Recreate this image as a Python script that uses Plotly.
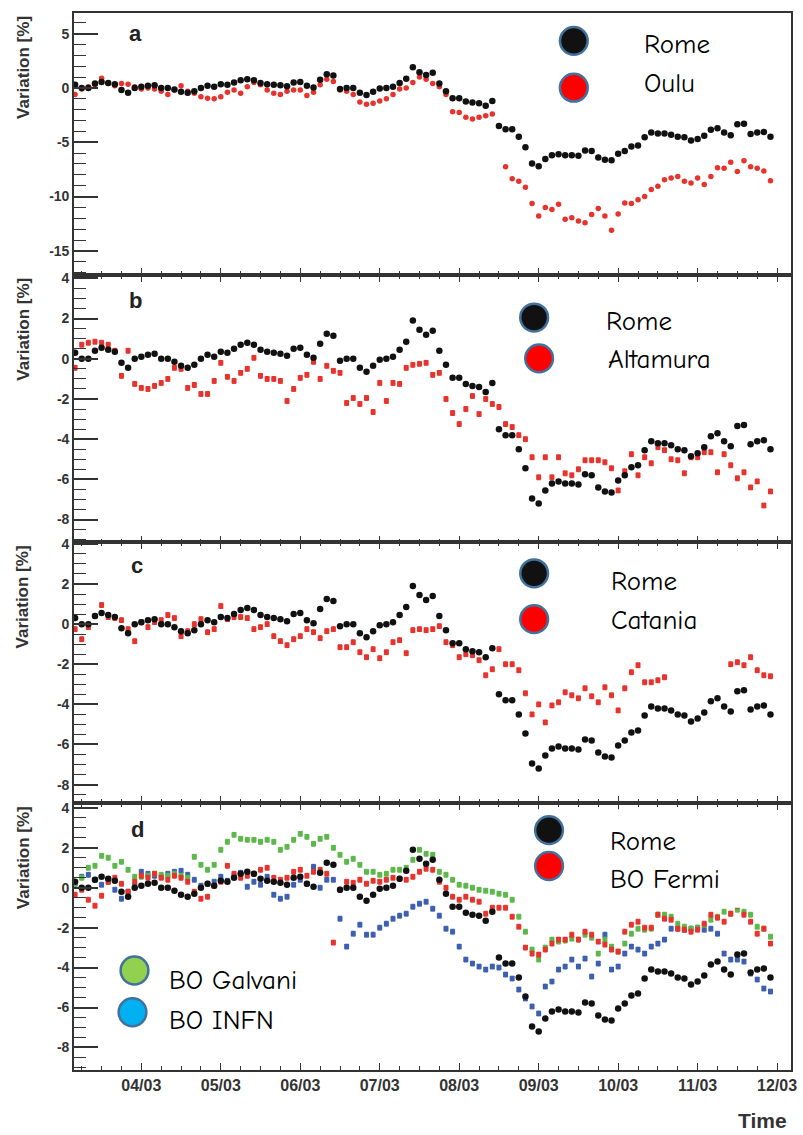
import pandas as pd
import plotly.graph_objects as go

# ---------------- data (variation in %, 2-hour bins) ----------------
N_POINTS = 106
START = "2012-03-03 04:00"

rome = [
    0.3, 0.0, 0.0, 0.4, 0.55, 0.45, 0.35, -0.2, -0.45, 0.0,
    0.1, 0.2, 0.25, 0.0, 0.0, -0.15, -0.35, -0.45, -0.3, 0.0,
    0.2, 0.1, 0.35, 0.3, 0.5, 0.7, 0.8, 0.7, 0.45, 0.35,
    0.3, 0.25, 0.15, 0.5, 0.55, 0.2, 0.05, 0.75, 1.25, 1.15,
    -0.1, 0.0, 0.0, -0.45, -0.65, -0.35, -0.05, 0.0, 0.1, 0.45,
    0.85, 1.9, 1.45, 1.2, 1.4, 0.4, -0.3, -0.95, -0.95, -1.25,
    -1.35, -1.4, -1.65, -1.2, -3.5, -3.8, -3.8, -4.5, -5.45, -6.95,
    -7.2, -6.55, -6.2, -6.1, -6.2, -6.2, -6.25, -5.75, -5.8, -6.4,
    -6.6, -6.65, -6.05, -5.8, -5.4, -5.3, -4.55, -4.1, -4.2, -4.2,
    -4.3, -4.5, -4.55, -4.85, -4.7, -4.4, -3.85, -3.7, -4.1, -4.35,
    -3.35, -3.3, -4.25, -4.1, -4.05, -4.5,
]

oulu = [
    -0.6, -0.1, 0.1, 0.3, 0.9, 0.4, 0.2, 0.4, 0.35, 0.1,
    -0.1, 0.0, -0.1, -0.3, -0.6, -0.2, 0.2, -0.3, -0.5, -0.8,
    -0.95, -1.0, -0.8, -0.4, -0.2, -0.5, 0.1, 0.5, 0.3, -0.2,
    -0.5, -0.6, -0.3, -0.2, -0.2, -0.7, -0.4, 0.3, 0.8, 0.6,
    -0.2, -0.3, -0.6, -1.3, -1.5, -1.4, -1.2, -1.0, -0.6, -0.1,
    0.0, 0.5, 1.0, 0.8, 0.4, 0.1, -0.6, -2.2, -2.25, -2.7,
    -2.85, -2.7, -2.55, -2.4, None, -7.25, -8.35, -8.6, -9.15, -10.65,
    -11.8, -11.0, -11.2, -10.7, -12.1, -11.95, -12.25, -12.4, -11.65, -11.1,
    -11.8, -13.1, -11.6, -10.6, -10.65, -10.3, -10.0, -9.35, -9.05, -8.45,
    -8.3, -8.15, -8.6, -8.75, -8.3, -8.9, -8.15, -7.35, -7.4, -6.85,
    -7.7, -6.7, -7.25, -7.4, -7.65, -8.55,
]

altamura = [
    -0.45, 0.7, 0.8, 0.85, 0.8, 0.7, 0.4, -0.85, 0.4, -1.25,
    -1.45, -1.5, -1.35, -1.2, -1.0, -0.45, -0.5, -1.45, -1.3, -1.75,
    -1.75, -1.1, -0.2, -0.9, -1.1, -0.7, -0.5, 0.05, -0.85, -1.0,
    -1.0, -1.1, -2.1, -1.5, -0.95, -0.8, -0.15, -1.0, -0.35, -0.6,
    -0.7, -2.2, -1.95, -2.25, -1.95, -2.65, -1.2, -2.1, -1.2, -1.25,
    -0.45, -0.3, -0.25, -0.2, -0.8, -0.7, -2.0, -2.7, -3.25, -2.5,
    -1.85, -2.75, -2.0, -2.25, -2.4, -3.25, -3.4, -3.8, -4.0, -4.9,
    -5.9, -4.9, -5.9, -4.9, -5.7, -5.8, -5.5, -5.05, -5.05, -5.05,
    -5.15, -5.45, -6.55, -5.6, -4.75, -5.8, -4.9, -5.2, -4.4, -4.55,
    -5.0, -5.05, -5.7, -4.9, -4.9, -4.65, -4.65, -5.65, -4.75, -5.3,
    -5.95, -5.65, -6.4, -6.1, -7.3, -6.6,
]

catania = [
    -0.25, -0.75, -0.15, 0.4, 0.95, 0.35, 0.3, 0.2, -0.25, -0.85,
    0.1, -0.15, 0.1, 0.2, 0.45, 0.3, -0.6, -0.35, 0.0, 0.25,
    -0.4, -0.25, 0.9, 0.25, 0.35, 0.35, 0.3, -0.25, -0.15, 0.0,
    -0.6, -0.85, -1.05, -0.75, -0.6, -0.25, -0.4, -0.7, -0.35, -0.25,
    -1.15, -1.15, -0.9, -1.4, -1.65, -1.25, -1.7, -1.4, -0.9, -0.8,
    -1.45, -0.3, -0.25, -0.3, -0.25, -0.1, -0.9, -1.05, -1.65, -1.5,
    -1.55, -1.8, -2.55, -2.25, -1.25, -2.0, -2.0, -2.3, -3.45, -4.5,
    -4.0, -4.9, -4.05, -3.9, -3.4, -3.55, -3.7, -3.2, -3.6, -3.9,
    -3.15, -3.55, -4.3, -3.2, -2.4, -2.05, -2.9, -2.9, -2.8, -2.65,
    None, None, None, None, None, None, None, None, None, -2.0,
    -1.9, -2.05, -1.65, -2.3, -2.55, -2.6,
]

bo_fermi = [
    -0.35, -0.1, -0.6, -0.9, -0.4, 0.3, 0.5, 0.2, -0.2, 0.3,
    0.6, 0.5, 0.7, 0.5, 0.4, 0.6, 0.5, 0.3, -0.2, -0.55,
    -0.45, 0.1, 0.3, 1.1, 0.7, 0.5, 0.6, 0.7, 0.9, 1.0,
    0.5, 0.4, 0.5, 0.8, 0.9, 0.6, 0.8, 0.9, 0.7, -2.75,
    -0.1, 0.3, 0.25, 0.4, 0.2, 0.35, 0.3, 0.4, 0.5, 0.45,
    0.4, 0.55, 0.8, 0.95, 0.9, 0.3, 0.0, -0.45, -0.6, -0.45,
    -0.6, -0.7, -1.3, -1.0, -1.0, -1.0, -1.45, -1.95, -3.0, -3.3,
    -3.35, -3.1, -2.8, -2.6, -2.6, -2.35, -2.6, -2.2, -2.35, -2.7,
    -2.85, -3.1, -3.2, -2.2, -1.85, -1.7, -2.0, -2.0, -1.35, -1.55,
    -1.6, -2.05, -2.1, -2.2, -2.1, -1.8, -1.35, -1.5, -1.7, -1.3,
    -0.9, -1.35, -1.7, -2.3, -2.05, -2.8,
]

bo_galvani = [
    0.2, 0.5, 1.0, 1.1, 1.6, 1.5, 1.1, 1.3, 0.9, 0.55,
    0.55, 0.6, 0.7, 0.65, 0.6, 0.7, 0.6, 0.5, 1.55, 1.15,
    0.9, 1.15, 1.9, 2.3, 2.65, 2.45, 2.4, 2.4, 2.3, 2.4,
    2.3, 1.9, 2.05, 2.4, 2.7, 2.55, 2.2, 2.45, 2.55, 2.0,
    1.65, 1.3, 1.45, 1.15, 0.8, 0.8, 0.65, 0.7, 0.9, 0.9,
    1.0, 1.4, 1.9, 1.7, 1.65, 0.8, 0.65, 0.4, 0.15, 0.1,
    0.0, -0.1, -0.15, -0.2, -0.3, -0.35, -0.6, -1.45, -2.2, -3.1,
    -3.6, -3.0, -2.6, -2.7, -2.65, -2.55, -2.6, -2.35, -2.5, -3.3,
    -2.6, -2.95, -3.2, -2.8, -2.3, -2.05, -2.1, -2.05, -1.35, -1.35,
    -1.45, -1.8, -1.95, -2.05, -2.0, -1.85, -1.6, -1.45, -1.2, -1.3,
    -1.1, -1.2, -1.35, -1.95, -2.05, -2.45,
]

bo_infn = [
    0.2, 0.55, 0.65, 0.4, 0.15, 0.3, -0.1, -0.55, -0.2, 0.1,
    0.8, 0.7, 0.6, 0.55, 0.7, 0.8, 0.85, 0.65, 0.4, 0.1,
    0.2, 0.3, 0.55, 0.35, 0.6, 0.75, 0.05, 0.3, 0.15, 0.55,
    -0.35, -0.55, -0.45, 0.15, 0.4, 0.2, 1.05, 0.0, 0.4, 0.4,
    -1.55, -2.95, -2.3, -1.85, -2.35, -2.35, -2.0, -1.8, -1.55, -1.4,
    -1.3, -0.95, -0.8, -0.7, -1.05, -1.4, -2.05, -2.2, -2.95, -3.6,
    -3.8, -3.95, -4.1, -3.95, -4.0, -4.35, -4.55, -5.1, -5.55, -5.95,
    -6.3, -4.95, -4.7, -4.1, -3.95, -3.6, -3.95, -3.55, -4.45, -3.8,
    -2.35, -4.1, -3.95, -3.3, -2.95, -3.1, -3.3, -2.95, -2.8, -2.6,
    -2.05, -2.05, -2.1, -2.05, -2.0, -2.1, -2.05, -2.3, -3.3, -3.6,
    -3.6, -3.7, -4.3, -4.6, -5.05, -5.2,
]

ERR = 0.12  # statistical error bar (%)

x_tick_vals = ["2012-03-04", "2012-03-05", "2012-03-06", "2012-03-07", "2012-03-08",
               "2012-03-09", "2012-03-10", "2012-03-11", "2012-03-12"]
x_tick_labels = ["04/03", "05/03", "06/03", "07/03", "08/03", "09/03", "10/03", "11/03", "12/03"]
ya_tick_vals = [5, 0, -5, -10, -15]
ya_tick_labels = ["5", "0", "-5", "-10", "-15"]
yb_tick_vals = [4, 2, 0, -2, -4, -6, -8]
yb_tick_labels = ["4", "2", "0", "-2", "-4", "-6", "-8"]

panel_letters = ["a", "b", "c", "d"]

time = pd.date_range(START, periods=N_POINTS, freq="2h")

# ---------------- geometry ----------------
W, H = 803, 1135
ML, MR, MT, MB = 74, 6, 8, 65
PW, PH = W - ML - MR, H - MT - MB


def px(x):
    return (x - ML) / PW


def py(y):
    return (H - MB - y) / PH


panel_px = [(8, 271), (271, 540), (540, 802), (802, 1070)]
domains = [[py(b), py(t)] for (t, b) in panel_px]
domains[3][0] = 0.0
domains[0][1] = 1.0
y_ranges = [[-17.2, 6.9], [-9.14, 4.18], [-8.93, 4.07], [-9.13, 4.23]]

BLACK = "#111111"
RED = "#e8322c"
GREEN = "#5cb84a"
BLUE = "#3d5fb0"

fig = go.Figure()


def add_pts(y, row, color, symbol="circle", size=5.5, err=False):
    kw = {}
    if err:
        kw["error_y"] = dict(type="constant", value=ERR, color=color, thickness=1, width=2)
    fig.add_trace(go.Scatter(
        x=time, y=y, mode="markers",
        marker=dict(color=color, size=size, symbol=symbol, line=dict(width=0)),
        xaxis="x" if row == 1 else f"x{row}",
        yaxis="y" if row == 1 else f"y{row}",
        showlegend=False, **kw))


# panel a
add_pts(oulu, 1, RED, size=5.5)
add_pts(rome, 1, BLACK, size=6.5)
# panel b
add_pts(altamura, 2, RED, symbol="square", size=5, err=True)
add_pts(rome, 2, BLACK, size=6.5)
# panel c
add_pts(catania, 3, RED, symbol="square", size=5, err=True)
add_pts(rome, 3, BLACK, size=6.5)
# panel d
add_pts(bo_infn, 4, BLUE, symbol="square", size=5, err=True)
add_pts(bo_galvani, 4, GREEN, symbol="square", size=5, err=True)
add_pts(bo_fermi, 4, RED, symbol="square", size=5, err=True)
add_pts(rome, 4, BLACK, size=6.5)

YTICKFONT = dict(family="Liberation Sans, Arial", size=14, color="#333333", weight="bold")
XTICKFONT = dict(family="Liberation Sans, Arial", size=16, color="#333333", weight="bold")
AX_LINE = "#333333"
x_range = ["2012-03-03 03:40", "2012-03-12 04:12"]

layout = dict(
    width=W, height=H,
    margin=dict(l=ML, r=MR, t=MT, b=MB),
    paper_bgcolor="white", plot_bgcolor="white",
    showlegend=False,
)

for k in range(4):
    sx = "" if k == 0 else str(k + 1)
    last = (k == 3)
    layout[f"xaxis{sx}"] = dict(
        range=x_range, type="date", anchor=f"y{sx}",
        domain=[0, 1],
        tickvals=x_tick_vals, ticktext=x_tick_labels,
        showticklabels=last, tickfont=XTICKFONT,
        ticks="inside", ticklen=7, tickwidth=1.2, tickcolor=AX_LINE,
        minor=dict(dtick=6 * 3600 * 1000, tick0="2012-03-04", ticks="inside",
                   ticklen=4, tickcolor=AX_LINE, tickwidth=1),
        showline=True, linecolor=AX_LINE, linewidth=1.6,
        mirror=True if k == 0 else "ticks",
        showgrid=False, zeroline=False,
        matches=None if k == 0 else "x",
    )
    tv, tt = (ya_tick_vals, ya_tick_labels) if k == 0 else (yb_tick_vals, yb_tick_labels)
    layout[f"yaxis{sx}"] = dict(
        range=y_ranges[k], domain=domains[k], anchor=f"x{sx}",
        tickvals=tv, ticktext=tt, tickfont=YTICKFONT,
        ticks="inside", ticklen=24, tickwidth=1.6, tickcolor=AX_LINE,
        minor=dict(dtick=1 if k == 0 else 0.5, ticks="inside", ticklen=12,
                   tickcolor=AX_LINE, tickwidth=1.2),
        showline=True, linecolor=AX_LINE, linewidth=1.6, mirror=True,
        showgrid=False, zeroline=False,
    )

fig.update_layout(**layout)

# ---------------- annotations ----------------
annotations = []
letter_pos = [(136, 29), (136, 297), (138, 563), (138, 828)]
for (lx, ly), L in zip(letter_pos, panel_letters):
    annotations.append(dict(x=px(lx), y=py(ly), xref="paper", yref="paper", text=L,
                            showarrow=False, xanchor="center", yanchor="middle",
                            font=dict(family="Liberation Sans, Arial", size=22,
                                      color="#222222", weight="bold")))
for (t, b) in panel_px:
    annotations.append(dict(x=px(23), y=py(t + 1), xref="paper", yref="paper",
                            text="Variation [%]", textangle=-90, showarrow=False,
                            xanchor="center", yanchor="top",
                            font=dict(family="Liberation Sans, Arial", size=17,
                                      color="#333333", weight="bold")))
annotations.append(dict(x=px(795), y=py(1121), xref="paper", yref="paper", text="Time",
                        showarrow=False, xanchor="right", yanchor="middle",
                        font=dict(family="Liberation Sans, Arial", size=21,
                                  color="#333333", weight="bold")))

LEG_FONT = dict(family="Comic Sans MS, Comic Neue, Noto Sans", size=27, color="black")
legend_items = [
    # (circle x, circle y, fill, text x, text y, text)
    (578, 36, BLACK, 647, 40, "Rome"),
    (578, 83, "#ff0000", 647, 79, "Oulu"),
    (538, 314, BLACK, 608, 318, "Rome"),
    (543, 355, "#ff0000", 610, 356, "Altamura"),
    (538, 571, BLACK, 613, 579, "Rome"),
    (538, 617, "#ff0000", 613, 618, "Catania"),
    (553, 829, BLACK, 612, 840, "Rome"),
    (553, 865, "#ff0000", 612, 879, "BO Fermi"),
    (135, 970, "#92d050", 168, 980, "BO Galvani"),
    (133, 1012, "#00b0f0", 168, 1020, "BO INFN"),
]

shapes = [
    dict(type="rect", xref="paper", yref="paper", x0=px(115), x1=px(335),
         y0=py(1033), y1=py(948), fillcolor="white", line=dict(width=0), layer="above"),
    dict(type="rect", xref="paper", yref="paper", x0=px(538), x1=px(758),
         y0=py(907), y1=py(808), fillcolor="white", line=dict(width=0), layer="above"),
]
R = 14
for cx, cy, fill, tx, ty, txt in legend_items:
    shapes.append(dict(type="circle", xref="paper", yref="paper",
                       x0=px(cx - R), x1=px(cx + R), y0=py(cy + R), y1=py(cy - R),
                       fillcolor=fill, line=dict(color="#41719c", width=2.5), layer="above"))
    annotations.append(dict(x=px(tx), y=py(ty), xref="paper", yref="paper", text=txt,
                            showarrow=False, xanchor="left", yanchor="middle",
                            font=LEG_FONT))

fig.update_layout(annotations=annotations, shapes=shapes)

# remove the default page margin so the figure sits at the window's top-left corner
fig.write_html("out.html",
               config={"displayModeBar": False},
               post_script="document.body.style.margin='0';document.body.style.overflow='hidden';")
